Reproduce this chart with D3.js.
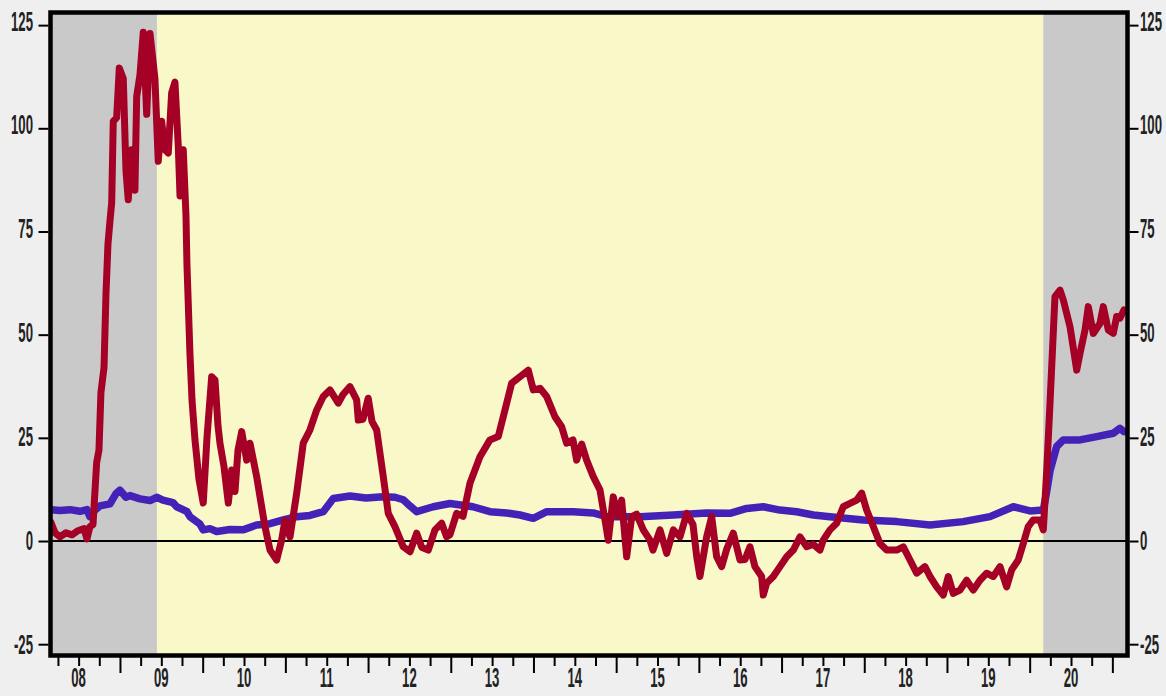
<!DOCTYPE html>
<html><head><meta charset="utf-8">
<script src="https://cdn.jsdelivr.net/npm/d3@7"></script>
<style>html,body{margin:0;padding:0;background:#efefef;} svg{display:block}</style>
</head><body>
<svg id="c" width="1166" height="696"></svg>
<script>
// ---- data ----
const yTicks = [-25, 0, 25, 50, 75, 100, 125];
const yearLabels = ["08","09","10","11","12","13","14","15","16","17","18","19","20"];
const labelYears = [2008,2009,2010,2011,2012,2013,2014,2015,2016,2017,2018,2019,2020];
const recessions = [[2008.160, 2009.447], [2020.165, 2021.183]];

const redSeries = [
[2008.166,4.5],[2008.214,2],[2008.274,1],[2008.347,2],[2008.420,1.5],[2008.492,2.5],[2008.565,3],[2008.601,0.5],
[2008.637,3.5],[2008.674,4],[2008.718,19],[2008.746,22],[2008.770,36],[2008.807,42],[2008.831,60],[2008.855,72],
[2008.879,77.5],[2008.900,82],[2008.919,101.7],[2008.960,102.6],[2008.992,114.6],[2009.040,112],[2009.073,89.6],
[2009.100,82.7],[2009.141,94.8],[2009.181,85],[2009.202,107.7],[2009.242,113],[2009.282,123.3],[2009.323,103.4],
[2009.363,123],[2009.423,112],[2009.463,92],[2009.504,101.7],[2009.544,94.8],[2009.584,94],[2009.625,108.6],
[2009.665,111.2],[2009.705,95.7],[2009.726,83.6],[2009.765,94.8],[2009.798,79],[2009.810,67],[2009.846,45.5],
[2009.871,34.2],[2009.907,24.5],[2009.955,15],[2010.007,9.2],[2010.052,25],[2010.109,39.8],[2010.149,39],
[2010.185,28],[2010.209,23.7],[2010.258,18],[2010.310,9.2],[2010.351,17.2],[2010.391,12],[2010.427,22],
[2010.472,26.5],[2010.532,19.6],[2010.572,23.7],[2010.653,15.6],[2010.753,3.5],[2010.814,-2.2],[2010.895,-4.6],
[2010.955,0.2],[2010.995,5],[2011.056,1],[2011.137,11.6],[2011.216,23.7],[2011.297,26.9],[2011.378,31.7],
[2011.458,35],[2011.539,36.6],[2011.640,33.4],[2011.697,35.5],[2011.781,37.4],[2011.862,34.2],[2011.882,29.3],
[2011.938,29.5],[2012.002,34.6],[2012.047,29],[2012.104,26.9],[2012.184,15.6],[2012.244,6.7],[2012.325,3.5],
[2012.426,-1.4],[2012.507,-2.6],[2012.588,1.9],[2012.648,-1.5],[2012.728,-2.2],[2012.809,2.7],[2012.890,4.3],
[2012.950,1],[2012.990,1.5],[2013.071,6.7],[2013.148,6],[2013.232,14],[2013.353,20.4],[2013.474,24.5],
[2013.574,25.3],[2013.655,31.7],[2013.736,38.2],[2013.837,39.8],[2013.937,41.4],[2013.998,36.6],[2014.079,37],
[2014.160,35],[2014.260,30.1],[2014.341,27.7],[2014.401,23.7],[2014.478,24.5],[2014.522,19.6],[2014.583,23.5],
[2014.643,19.6],[2014.723,15.6],[2014.804,12.4],[2014.865,5.1],[2014.905,0.2],[2014.965,10.7],[2015.022,6],
[2015.066,9.9],[2015.127,-3.8],[2015.188,5.9],[2015.248,6.5],[2015.328,2.7],[2015.409,0.2],[2015.445,-2.2],
[2015.530,2.7],[2015.611,-3],[2015.691,2.7],[2015.772,1],[2015.853,6.7],[2015.929,4],[2015.974,-3.8],
[2016.013,-8.6],[2016.094,1],[2016.155,5.9],[2016.215,-3.8],[2016.276,-6.2],[2016.336,-2],[2016.416,1.9],
[2016.497,-4.6],[2016.558,-4.5],[2016.618,-1.4],[2016.678,-6.2],[2016.759,-8.6],[2016.779,-13.1],[2016.820,-10.2],
[2016.900,-8.6],[2016.981,-6.2],[2017.062,-3.8],[2017.142,-2.2],[2017.223,1],[2017.304,-1.4],[2017.384,-0.8],
[2017.464,-2.2],[2017.504,0.2],[2017.585,2.7],[2017.666,4.3],[2017.746,8.3],[2017.827,9.1],[2017.908,9.9],
[2017.969,11.6],[2018.029,7.5],[2018.109,3.5],[2018.190,-0.6],[2018.271,-2.2],[2018.392,-2.2],[2018.472,-1.4],
[2018.553,-4.6],[2018.634,-7.8],[2018.734,-6.2],[2018.795,-8.6],[2018.876,-11.1],[2018.955,-13.1],[2019.016,-8.6],
[2019.076,-12.7],[2019.157,-11.9],[2019.238,-9.5],[2019.318,-11.9],[2019.399,-9.5],[2019.480,-7.8],[2019.560,-8.6],
[2019.641,-6.2],[2019.722,-11.1],[2019.782,-7],[2019.862,-4.6],[2019.923,-0.6],[2019.983,3.5],[2020.044,5.1],
[2020.125,5.1],[2020.165,2.7],[2020.206,17],[2020.246,33.4],[2020.306,59.2],[2020.367,60.8],[2020.407,58.4],
[2020.488,51.9],[2020.569,41.4],[2020.609,45.5],[2020.669,51.1],[2020.709,56.8],[2020.769,50.3],[2020.850,52.7],
[2020.890,56.8],[2020.951,51.1],[2021.011,50.3],[2021.052,54.4],[2021.092,54],[2021.140,56]
];

const blueSeries = [
[2008.166,7.6],[2008.274,7.4],[2008.395,7.6],[2008.516,7.2],[2008.601,7.6],[2008.637,5.9],[2008.698,7.5],
[2008.758,8.5],[2008.879,9],[2008.952,11.5],[2009.000,12.3],[2009.073,10.6],[2009.121,11],[2009.242,10.2],
[2009.363,9.8],[2009.444,10.6],[2009.520,9.9],[2009.641,9.3],[2009.686,8.3],[2009.807,7.2],[2009.846,5.9],
[2009.967,4.1],[2010.007,2.7],[2010.088,3],[2010.169,2.3],[2010.330,2.8],[2010.487,2.7],[2010.653,3.9],
[2010.814,4.2],[2010.975,5.1],[2011.137,5.9],[2011.297,6.2],[2011.458,7.1],[2011.579,10.3],[2011.781,10.9],
[2011.975,10.4],[2012.184,10.7],[2012.325,10.6],[2012.426,10],[2012.507,8.5],[2012.588,7.1],[2012.788,8.3],
[2012.990,9.1],[2013.268,8.3],[2013.474,7.1],[2013.676,6.8],[2013.837,6.3],[2013.998,5.5],[2014.160,7.1],
[2014.481,7.1],[2014.723,6.8],[2014.885,5.9],[2015.288,5.9],[2015.691,6.3],[2016.094,6.8],[2016.376,6.7],
[2016.578,7.9],[2016.779,8.3],[2016.981,7.5],[2017.183,7.1],[2017.384,6.3],[2017.585,5.9],[2017.988,5.1],
[2018.392,4.7],[2018.795,3.9],[2019.197,4.7],[2019.520,5.9],[2019.802,8.3],[2020.004,7.3],[2020.165,7.5],
[2020.206,12],[2020.246,17],[2020.327,22.9],[2020.407,24.5],[2020.609,24.5],[2020.811,25.3],[2021.011,26.1],
[2021.092,27.3],[2021.140,26.5]
];

// ---- layout ----
const L = 50.5, R = 1127.5, T = 12.5, B = 655.5;
const svg = d3.select("#c");
const x = d3.scaleLinear().domain([2008.160, 2021.183]).range([L, R]);
const y = d3.scaleLinear().domain([-27.74, 128.06]).range([B, T]);
const labelY = d3.scaleLinear().domain([-25, 125]).range([653.5, 30.5]);

svg.append("rect").attr("width", 1166).attr("height", 696).attr("fill", "#efefef");

svg.append("defs").append("clipPath").attr("id", "clip")
  .append("rect").attr("x", L).attr("y", T).attr("width", R - L).attr("height", B - T);

const plot = svg.append("g").attr("clip-path", "url(#clip)");
plot.append("rect").attr("x", L).attr("y", T).attr("width", R - L).attr("height", B - T).attr("fill", "#f9f8c8");
plot.selectAll("rect.rec").data(recessions).join("rect").attr("class", "rec")
  .attr("x", d => x(d[0])).attr("width", d => x(d[1]) - x(d[0]))
  .attr("y", T).attr("height", B - T).attr("fill", "#c9c9c9");

plot.append("line").attr("x1", L).attr("x2", R).attr("y1", y(0)).attr("y2", y(0))
  .attr("stroke", "#000").attr("stroke-width", 2);

const line = d3.line().x(d => x(d[0])).y(d => y(d[1]));
plot.append("path").datum(blueSeries).attr("d", line).attr("fill", "none")
  .attr("stroke", "#4422b8").attr("stroke-width", 7.5).attr("stroke-linejoin", "round").attr("stroke-linecap", "round");
plot.append("path").datum(redSeries).attr("d", line).attr("fill", "none")
  .attr("stroke", "#a50026").attr("stroke-width", 7).attr("stroke-linejoin", "round").attr("stroke-linecap", "round");

// frame
svg.append("rect").attr("x", L).attr("y", T).attr("width", R - L).attr("height", B - T)
  .attr("fill", "none").attr("stroke", "#000").attr("stroke-width", 4.5);

// axes
function styleAxis(g) {
  g.select(".domain").remove();
  g.selectAll(".tick line").attr("stroke", "#000").attr("stroke-width", 2);
}
svg.append("g").attr("transform", "translate(48.5,0)")
  .call(d3.axisLeft(y).tickValues(yTicks).tickSize(10).tickFormat("")).call(styleAxis);
svg.append("g").attr("transform", "translate(1129.5,0)")
  .call(d3.axisRight(y).tickValues(yTicks).tickSize(9).tickFormat("")).call(styleAxis);

const quarters = d3.range(2008.25, 2021.01, 0.25).filter(q => Math.abs(q - Math.round(q)) > 0.01);
const yearTicks = d3.range(2009, 2022, 1).filter(v => x(v) <= R + 1);
svg.append("g").attr("transform", "translate(0,657)")
  .call(d3.axisBottom(x).tickValues(quarters).tickSize(9).tickFormat("")).call(styleAxis);
svg.append("g").attr("transform", "translate(0,657)")
  .call(d3.axisBottom(x).tickValues(yearTicks).tickSize(16).tickFormat("")).call(styleAxis);

const SX = 0.47;
const font = "'Liberation Sans', Arial, sans-serif";
function label(g, tx, ty, txt, anchor) {
  g.append("text").attr("transform", `translate(${tx},${ty}) scale(${SX},1)`)
    .attr("text-anchor", anchor).attr("font-family", font).attr("font-weight", "bold")
    .attr("font-size", 28).attr("fill", "#222").text(txt);
}
const lab = svg.append("g");
yTicks.forEach(v => {
  label(lab, 33, labelY(v), String(v), "end");
  label(lab, 1140, labelY(v), String(v), "start");
});
yearLabels.forEach((t, i) => {
  label(lab, x(labelYears[i] + 0.5), 687, t, "middle");
});
</script>
</body></html>
